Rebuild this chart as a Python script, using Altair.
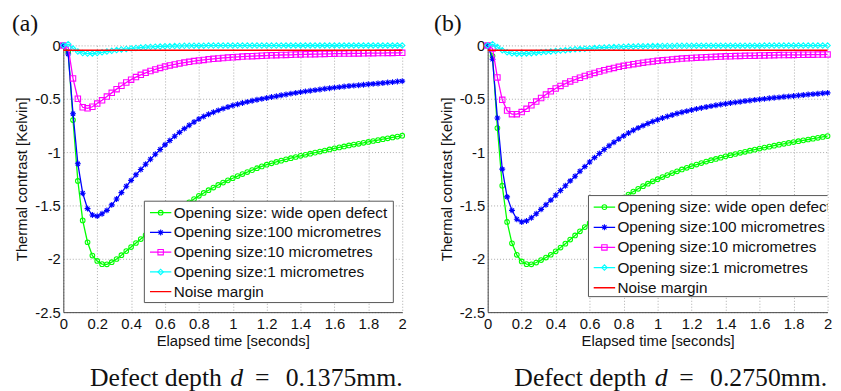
import altair as alt
import pandas as pd

# ---------------- data ----------------
N = 71
TIME = [round(k * 2 / 70, 5) for k in range(N)]   # sample times, 0 .. 2 s

SERIES = ["Opening size: wide open defect", "Opening size:100 micrometres",
          "Opening size:10 micrometres", "Opening size:1 micrometres", "Noise margin"]
COLORS = ["#00ff00", "#0000ff", "#ff00ff", "#00ffff", "#ff0000"]

# panel (a): defect depth 0.1375 mm
GREEN_A = [0, -0.06, -0.70, -1.27, -1.64, -1.845, -1.97, -2.02, -2.05, -2.052, -2.032, -2.002, -1.966, -1.928,
           -1.890, -1.852, -1.815, -1.778, -1.741, -1.704, -1.667, -1.630,
           -1.597, -1.565, -1.533, -1.502, -1.471, -1.440, -1.410,
           -1.383, -1.357, -1.332, -1.308, -1.286, -1.265, -1.245,
           -1.225, -1.206, -1.187, -1.169, -1.151, -1.134, -1.118,
           -1.105, -1.092, -1.080, -1.068, -1.057, -1.046, -1.035,
           -1.025, -1.015, -1.005, -0.995, -0.985, -0.975, -0.965,
           -0.956, -0.947, -0.938, -0.930, -0.922, -0.913, -0.905,
           -0.896, -0.888, -0.879, -0.871, -0.863, -0.855, -0.846]
BLUE_A = [0, -0.08, -0.64, -1.11, -1.385, -1.53, -1.59, -1.60, -1.578, -1.546, -1.495, -1.44, -1.38, -1.32,
          -1.265, -1.213, -1.163, -1.114, -1.067, -1.021, -0.976, -0.932,
          -0.891, -0.852, -0.815, -0.780, -0.748, -0.718, -0.690,
          -0.667, -0.646, -0.627, -0.609, -0.593, -0.578, -0.564,
          -0.5515, -0.540, -0.5295, -0.5195, -0.510, -0.501, -0.4925,
          -0.484, -0.476, -0.468, -0.460, -0.452, -0.445, -0.438,
          -0.431, -0.425, -0.419, -0.413, -0.407, -0.401, -0.396,
          -0.391, -0.386, -0.381, -0.377, -0.373, -0.369, -0.365,
          -0.361, -0.357, -0.352, -0.348, -0.344, -0.339, -0.335]
MAGENTA_A = [0, -0.02, -0.31, -0.50, -0.58, -0.59, -0.575, -0.545, -0.515, -0.48, -0.445, -0.41, -0.378, -0.348,
             -0.321, -0.297, -0.276, -0.257, -0.240, -0.225, -0.211, -0.199,
             -0.188, -0.178, -0.169, -0.161, -0.154, -0.147, -0.141,
             -0.136, -0.131, -0.126, -0.122, -0.118, -0.114, -0.111,
             -0.108, -0.105, -0.103, -0.101, -0.099, -0.097, -0.095,
             -0.093, -0.092, -0.090, -0.089, -0.088, -0.086, -0.085,
             -0.084, -0.083, -0.082, -0.081, -0.080, -0.079, -0.078,
             -0.077, -0.077, -0.076, -0.075, -0.075, -0.074, -0.073,
             -0.073, -0.072, -0.072, -0.071, -0.071, -0.070, -0.070]
CYAN_A = [0, 0.012, -0.03, -0.058, -0.072, -0.077, -0.076, -0.072, -0.065, -0.058, -0.051, -0.044, -0.038, -0.033,
          -0.028, -0.024, -0.020, -0.017, -0.014, -0.012, -0.010, -0.008,
          -0.007, -0.006, -0.005, -0.004, -0.004, -0.003, -0.003,
          -0.003, -0.002, -0.002, -0.002, -0.002, -0.002, -0.002,
          -0.002, -0.002, -0.002, -0.002, -0.002, -0.002, -0.002,
          -0.002, -0.002, -0.002, -0.001, -0.001, -0.001, -0.001,
          -0.001, -0.001, -0.001, -0.001, -0.001, -0.001, -0.001,
          -0.001, -0.001, -0.001, -0.001, -0.001, -0.001, -0.001,
          -0.001, -0.001, -0.001, -0.001, -0.001, -0.001, -0.001]
NOISE_A = -0.045

# panel (b): defect depth 0.2750 mm
GREEN_B = [0, -0.10, -0.775, -1.315, -1.655, -1.855, -1.963, -2.025, -2.050, -2.052, -2.035, -2.012, -1.988, -1.962,
           -1.930, -1.895, -1.858, -1.820, -1.781, -1.742, -1.703, -1.665,
           -1.628, -1.592, -1.557, -1.523, -1.490, -1.458, -1.427,
           -1.398, -1.370, -1.344, -1.319, -1.296, -1.274, -1.254,
           -1.234, -1.215, -1.197, -1.180, -1.163, -1.147, -1.132,
           -1.117, -1.103, -1.089, -1.076, -1.064, -1.052, -1.040,
           -1.029, -1.018, -1.007, -0.997, -0.987, -0.977, -0.967,
           -0.958, -0.949, -0.940, -0.931, -0.922, -0.914, -0.906,
           -0.898, -0.890, -0.882, -0.874, -0.866, -0.858, -0.850]
BLUE_B = [0, -0.13, -0.68, -1.16, -1.42, -1.546, -1.63, -1.655, -1.645, -1.615, -1.578, -1.537, -1.494, -1.450,
          -1.405, -1.360, -1.315, -1.270, -1.226, -1.180, -1.136, -1.093,
          -1.052, -1.013, -0.976, -0.941, -0.908, -0.877, -0.848,
          -0.821, -0.796, -0.773, -0.752, -0.732, -0.714, -0.697,
          -0.681, -0.666, -0.652, -0.639, -0.627, -0.616, -0.605,
          -0.595, -0.586, -0.577, -0.569, -0.561, -0.554, -0.547,
          -0.540, -0.534, -0.528, -0.522, -0.516, -0.511, -0.506,
          -0.501, -0.496, -0.491, -0.487, -0.482, -0.478, -0.474,
          -0.469, -0.465, -0.461, -0.457, -0.453, -0.449, -0.445]
MAGENTA_B = [0, -0.03, -0.30, -0.51, -0.61, -0.645, -0.645, -0.625, -0.595, -0.562, -0.527, -0.493, -0.461, -0.431,
             -0.404, -0.380, -0.358, -0.338, -0.320, -0.303, -0.287, -0.272,
             -0.258, -0.245, -0.233, -0.222, -0.211, -0.201, -0.192,
             -0.184, -0.176, -0.169, -0.162, -0.156, -0.150, -0.145,
             -0.140, -0.136, -0.132, -0.128, -0.124, -0.121, -0.118,
             -0.115, -0.113, -0.111, -0.109, -0.107, -0.105, -0.103,
             -0.102, -0.100, -0.099, -0.098, -0.097, -0.096, -0.095,
             -0.094, -0.093, -0.092, -0.091, -0.090, -0.089, -0.089,
             -0.088, -0.088, -0.087, -0.087, -0.086, -0.086, -0.085]
CYAN_B = [0, 0.012, -0.015, -0.045, -0.065, -0.075, -0.078, -0.078, -0.076, -0.073, -0.069, -0.065, -0.061, -0.057,
          -0.053, -0.049, -0.045, -0.041, -0.037, -0.034, -0.031, -0.028,
          -0.025, -0.022, -0.020, -0.018, -0.016, -0.014, -0.012,
          -0.011, -0.010, -0.009, -0.008, -0.007, -0.006, -0.006,
          -0.005, -0.005, -0.005, -0.004, -0.004, -0.004, -0.004,
          -0.003, -0.003, -0.003, -0.003, -0.003, -0.003, -0.003,
          -0.003, -0.003, -0.003, -0.003, -0.003, -0.003, -0.003,
          -0.002, -0.002, -0.002, -0.002, -0.002, -0.002, -0.002,
          -0.002, -0.002, -0.002, -0.002, -0.002, -0.002, -0.002]
NOISE_B = -0.046

X_TICKS = [0, 0.2, 0.4, 0.6, 0.8, 1, 1.2, 1.4, 1.6, 1.8, 2]
Y_TICKS = [-2.5, -2, -1.5, -1, -0.5, 0]

# ---------------- styling ----------------
SANS = "Liberation Sans"
SERIF = "Liberation Serif"
ASTERISK = "M-1,0L1,0M0,-1L0,1M-0.7,-0.7L0.7,0.7M-0.7,0.7L0.7,-0.7"
SHAPES = ["circle", ASTERISK, "square", "diamond", ""]
SIZES = [22, 36, 30, 30, 0]
PLOT_H = 270


def panel(tag, depth, vals, noise, width, leg, tag_x):
    xenc = alt.X("t:Q", scale=alt.Scale(domain=[0, 2], nice=False, zero=False),
                 axis=alt.Axis(values=X_TICKS, title="Elapsed time [seconds]",
                               labelExpr="format(datum.value, '~g')"))
    yenc = alt.Y("v:Q", scale=alt.Scale(domain=[-2.5, 0], nice=False, zero=False),
                 axis=alt.Axis(values=Y_TICKS, title="Thermal contrast [Kelvin]",
                               labelExpr="(datum.value < 0 ? '-' : '') + format(abs(datum.value), '~g')"))
    layers = []
    for i in range(4):
        b = alt.Chart(pd.DataFrame({"t": TIME, "v": vals[i]}))
        layers.append(b.mark_line(color=COLORS[i], strokeWidth=1.3).encode(x=xenc, y=yenc))
        layers.append(b.mark_point(shape=SHAPES[i], color=COLORS[i], filled=False, size=SIZES[i],
                                   strokeWidth=1.1, opacity=1).encode(x=xenc, y=yenc))
    noise_df = pd.DataFrame({"t": [TIME[0], TIME[-1]], "v": [noise, noise]})
    layers.append(alt.Chart(noise_df).mark_line(color=COLORS[4], strokeWidth=1.4).encode(x=xenc, y=yenc))

    # legend box (drawn by hand so that it can be clipped at the plot edge)
    one = pd.DataFrame({"k": [0]})
    layers.append(alt.Chart(one).mark_rect(clip=True, fill="white", stroke="#555", strokeWidth=1).encode(
        x=alt.value(leg["x0"]), x2=alt.value(leg["x1"]), y=alt.value(leg["y0"]), y2=alt.value(leg["y1"])))
    ldf = pd.DataFrame({"name": SERIES, "i": list(range(5)), "color": COLORS,
                        "shape": SHAPES, "size": SIZES})
    lb = alt.Chart(ldf).transform_calculate(py=f"{leg['row0']} + {leg['dy']} * datum.i")
    layers.append(lb.mark_rule(clip=True, strokeWidth=1.3).encode(
        x=alt.value(leg["lx0"]), x2=alt.value(leg["lx1"]), y=alt.Y("py:Q", scale=None),
        color=alt.Color("color:N", scale=None)))
    layers.append(lb.transform_filter("datum.i < 4").mark_point(clip=True, filled=False, strokeWidth=1.1, opacity=1).encode(
        x=alt.value((leg["lx0"] + leg["lx1"]) / 2), y=alt.Y("py:Q", scale=None),
        color=alt.Color("color:N", scale=None), shape=alt.Shape("shape:N", scale=None),
        size=alt.Size("size:Q", scale=None)))
    layers.append(lb.mark_text(clip=True, align="left", baseline="middle", font=SANS, fontSize=15.5,
                               color="#111").encode(
        x=alt.value(leg["tx"]), y=alt.Y("py:Q", scale=None), text="name:N"))

    # panel tag and caption
    tdf = pd.DataFrame({"tag": [tag], "a": ["Defect depth"], "d": ["d"], "e": ["="], "b": [f"{depth}mm."]})
    tc = alt.Chart(tdf)
    layers.append(tc.mark_text(align="left", baseline="alphabetic", font=SERIF, fontSize=24, color="#111").encode(
        x=alt.value(tag_x), y=alt.value(-14.3), text="tag:N"))
    cap = dict(baseline="alphabetic", font=SERIF, fontSize=26, color="#111")
    layers.append(tc.mark_text(align="left", **cap).encode(x=alt.value(27), y=alt.value(345), text="a:N"))
    layers.append(tc.mark_text(align="left", fontStyle="italic", **cap).encode(
        x=alt.value(169), y=alt.value(345), text="d:N"))
    layers.append(tc.mark_text(align="left", **cap).encode(x=alt.value(194), y=alt.value(345), text="e:N"))
    layers.append(tc.mark_text(align="right", **cap).encode(x=alt.value(343.5), y=alt.value(345), text="b:N"))
    return alt.layer(*layers).properties(width=width, height=PLOT_H)


LEG_A = dict(x0=82, x1=334, y0=157.7, y1=260.3, row0=169.3, dy=20, lx0=87.7, lx1=109.3, tx=111.7)
LEG_B = dict(x0=102, x1=380, y0=152, y1=254.3, row0=163.7, dy=20.4, lx0=107.3, lx1=129, tx=131.3)

pa = panel("(a)", "0.1375", [GREEN_A, BLUE_A, MAGENTA_A, CYAN_A], NOISE_A, 343, LEG_A, -52)
pb = panel("(b)", "0.2750", [GREEN_B, BLUE_B, MAGENTA_B, CYAN_B], NOISE_B, 344, LEG_B, -54.3)

chart = (
    alt.hconcat(pa, pb, spacing=25.5)
    .properties(padding={"left": 4, "top": 1.5, "right": 0, "bottom": 0})
    .configure_view(stroke=None)
    .configure_axis(labelFont=SANS, labelFontSize=15, titleFont=SANS, titleFontSize=15,
                    titleFontWeight="normal", labelColor="#111", titleColor="#111",
                    domainColor="#444", domainWidth=1, ticks=False, grid=True,
                    gridColor="#aaaaaa", gridDash=[1, 2], gridWidth=1,
                    labelFlush=False, labelOverlap=False)
    .configure_axisX(labelPadding=5, titlePadding=2)
    .configure_axisY(labelPadding=3, titlePadding=5)
)

chart.save("out.html", embed_options={"renderer": "svg", "actions": False})
